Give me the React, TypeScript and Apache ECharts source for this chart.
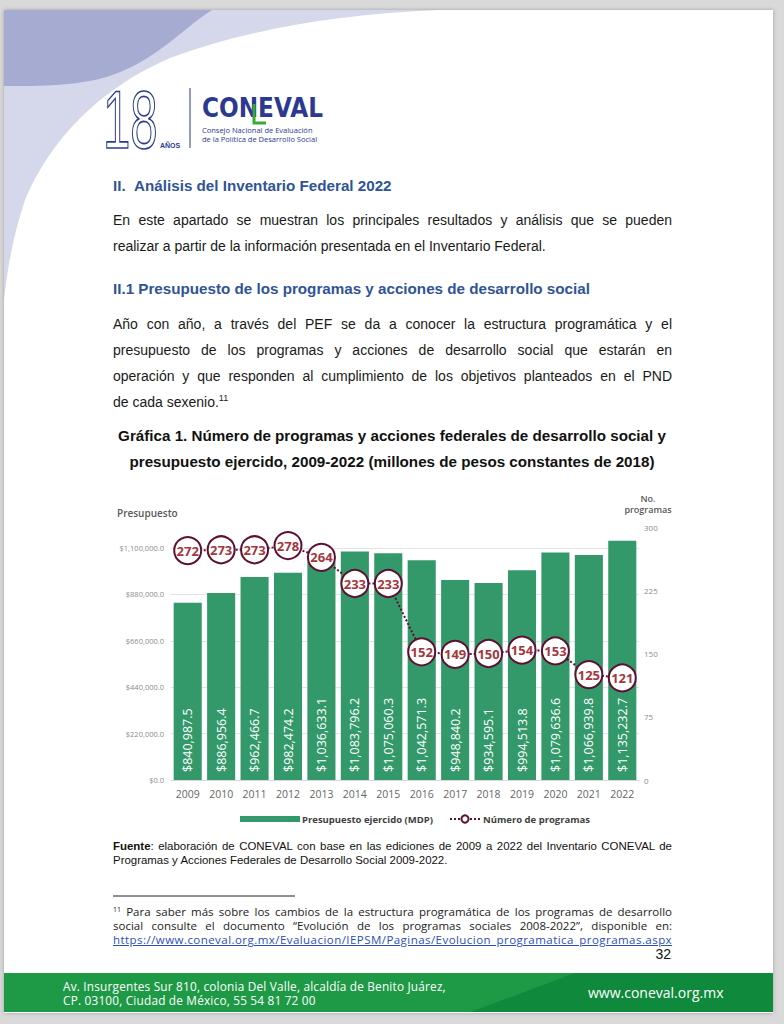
import React, { useEffect, useRef } from "react";
import * as echarts from "echarts";

const years = ["2009", "2010", "2011", "2012", "2013", "2014", "2015", "2016", "2017", "2018", "2019", "2020", "2021", "2022"];
const budget = [840987.5, 886956.4, 962466.7, 982474.2, 1036633.1, 1083796.2, 1075060.3, 1042571.3, 948840.2, 934595.1, 994513.8, 1079636.6, 1066939.8, 1135232.7];
const programs = [272, 273, 273, 278, 264, 233, 233, 152, 149, 150, 154, 153, 125, 121];
const budgetAxis = { min: 0, max: 1200000, step: 220000 };
const programsAxis = { min: 0, max: 300, step: 75 };
const seriesNames = ["Presupuesto ejercido (MDP)", "Número de programas"];

const fmtMoney = (v: number) =>
  "$" + v.toLocaleString("en-US", { minimumFractionDigits: 1, maximumFractionDigits: 1 });

const GREEN = "#33996a";
const MAROON = "#5e1030";
const CHART_FONT = "'Open Sans', sans-serif";

function Chart() {
  const ref = useRef<HTMLDivElement>(null);
  useEffect(() => {
    const chart = echarts.init(ref.current as HTMLDivElement, null, { renderer: "svg" });
    chart.setOption({
      animation: false,
      textStyle: { fontFamily: CHART_FONT },
      grid: { left: 171, right: 145, top: 37, bottom: 50 },
      graphic: [
        {
          type: "text",
          left: 117,
          top: 18,
          style: { text: "Presupuesto", fill: "#595959", font: `600 10px ${CHART_FONT}` },
        },
        {
          type: "text",
          x: 648,
          y: 3,
          style: {
            text: "No.\nprogramas",
            fill: "#595959",
            font: `600 9px ${CHART_FONT}`,
            align: "center",
            verticalAlign: "top",
            lineHeight: 11,
          },
        },
      ],
      legend: [
        {
          data: [seriesNames[0]],
          left: 235,
          top: 319,
          itemWidth: 60,
          itemHeight: 6,
          itemGap: 5,
          icon: "rect",
          textStyle: { color: "#404040", fontSize: 9.5, fontWeight: 700, fontFamily: CHART_FONT, padding: [0, 0, 0, -3] },
        },
        {
          data: [seriesNames[1]],
          left: 444,
          top: 319,
          itemWidth: 30,
          itemHeight: 9,
          textStyle: { color: "#404040", fontSize: 9.5, fontWeight: 700, fontFamily: CHART_FONT, padding: [0, 0, 0, -2] },
        },
      ],
      xAxis: {
        type: "category",
        data: years,
        axisTick: { show: false },
        axisLine: { show: true, lineStyle: { color: "#d9d9d9" } },
        axisLabel: { color: "#666666", fontSize: 10.5, margin: 8 },
      },
      yAxis: [
        {
          type: "value",
          min: budgetAxis.min,
          max: budgetAxis.max,
          interval: budgetAxis.step,
          axisLine: { show: false },
          axisTick: { show: false },
          axisLabel: {
            color: "#8c8c8c",
            fontSize: 7.5,
            margin: 7,
            showMaxLabel: false,
            formatter: (v: number) => (v > 1100000 ? "" : fmtMoney(v)),
          },
          splitLine: { show: true, showMaxLine: false, lineStyle: { color: "#e3e3e3" } },
        },
        {
          type: "value",
          min: programsAxis.min,
          max: programsAxis.max,
          interval: programsAxis.step,
          axisLine: { show: false },
          axisTick: { show: false },
          axisLabel: { color: "#8c8c8c", fontSize: 8, margin: 5 },
          splitLine: { show: false },
        },
      ],
      series: [
        {
          name: seriesNames[0],
          type: "bar",
          data: budget,
          yAxisIndex: 0,
          barCategoryGap: "16%",
          itemStyle: { color: GREEN },
          label: {
            show: true,
            position: "insideBottom",
            rotate: 90,
            align: "left",
            verticalAlign: "middle",
            distance: 8,
            color: "#ffffff",
            fontSize: 12.5,
            fontFamily: CHART_FONT,
            formatter: (p: any) => fmtMoney(p.value),
          },
        },
        {
          name: seriesNames[1],
          type: "line",
          data: programs,
          yAxisIndex: 1,
          z: 5,
          symbol: "circle",
          symbolSize: 27,
          lineStyle: { color: MAROON, width: 2, type: "dotted" },
          itemStyle: { color: "#ffffff", borderColor: MAROON, borderWidth: 2 },
          label: {
            show: true,
            position: "inside",
            color: "#a3373d",
            fontSize: 13,
            fontWeight: "bold",
            fontFamily: CHART_FONT,
          },
        },
      ],
    });
    return () => chart.dispose();
  }, []);
  return <div ref={ref} style={{ position: "absolute", left: 0, top: 490, width: 784, height: 340 }} />;
}

const BODY_FONT = "'Liberation Sans', Arial, sans-serif";
const GOTHIC = "'Open Sans', sans-serif";

type LineProps = {
  center: number;
  left?: number;
  width?: number;
  lh?: number;
  justify?: boolean;
  align?: "left" | "center" | "right";
  style?: React.CSSProperties;
  children: React.ReactNode;
};

function L({ center, left = 113, width = 559, lh = 20, justify = false, align = "left", style, children }: LineProps) {
  return (
    <div
      style={{
        position: "absolute",
        left,
        width,
        top: center - lh / 2,
        height: lh,
        lineHeight: `${lh}px`,
        whiteSpace: justify ? "normal" : "nowrap",
        textAlign: justify ? "justify" : align,
        textAlignLast: justify ? "justify" : align,
        overflow: "visible",
        ...style,
      }}
    >
      {children}
    </div>
  );
}

export default function App() {
  const p = { fontFamily: BODY_FONT, fontSize: 14, color: "#1a1a1a" };
  const h = { fontFamily: BODY_FONT, fontSize: 15.2, fontWeight: 700, color: "#2f5496" };
  const cap = { fontFamily: BODY_FONT, fontSize: 15.2, fontWeight: 700, color: "#111" };
  const src = { fontFamily: BODY_FONT, fontSize: 11.45, color: "#111" };
  const fn = { fontFamily: GOTHIC, fontSize: 11.5, color: "#222" };
  return (
    <div style={{ position: "absolute", left: 0, top: 0, width: 784, height: 1024, overflow: "hidden", background: "#d9d9d9" }}>
      <div
        style={{
          position: "absolute",
          left: 4,
          top: 10,
          width: 769,
          height: 1003,
          background: "#ffffff",
          boxShadow: "0 0 4px rgba(0,0,0,0.25)",
        }}
      />
      <svg width={784} height={1024} style={{ position: "absolute", left: 0, top: 0 }}>
        <path d="M4,10 H440 C330,14 240,32 170,58 C100,88 50,140 25,200 C15,230 8,262 4,300 Z" fill="#d5d8eb" />
        <path d="M4,10 H212 C180,30 150,68 95,80 C60,87 30,86 4,86 Z" fill="#a6abd2" />
        {/* logo */}
        <g transform="translate(103,148) scale(0.6,1)">
          <text x={0} y={0} fontFamily={BODY_FONT} fontSize={82} fill="none" stroke="#2b3990" strokeWidth={1.6}>
            18
          </text>
        </g>
        <text x={160} y={148} fontFamily={BODY_FONT} fontSize={7} fontWeight={700} fill="#2b3990">
          AÑOS
        </text>
        <line x1={190} y1={88} x2={190} y2={148} stroke="#2b3990" strokeWidth={1} />
        <text
          x={202}
          y={117}
          fontFamily="'DejaVu Sans', sans-serif"
          fontSize={27}
          fontWeight={700}
          fill="#2b3990"
          textLength={121}
          lengthAdjust="spacingAndGlyphs"
        >
          CONEVAL
        </text>
        <polyline points="254,104 254,123 266,123" fill="none" stroke="#3aaa35" strokeWidth={3} />
        <text x={202} y={133} fontFamily={GOTHIC} fontSize={7.5} fill="#2b3990">
          Consejo Nacional de Evaluación
        </text>
        <text x={202} y={142} fontFamily={GOTHIC} fontSize={7.5} fill="#2b3990">
          de la Política de Desarrollo Social
        </text>
        {/* footer */}
        <rect x={4} y={973} width={769} height={39} fill="#1e9a46" />
        <polygon points="575,973 773,973 773,1012 470,1012" fill="#0f8a3c" />
        <line x1={113} y1={896} x2={295} y2={896} stroke="#222" strokeWidth={1} />
      </svg>

      <L center={186} style={h}>II.&nbsp;&nbsp;Análisis del Inventario Federal 2022</L>
      <L center={220} lh={26} justify style={p}>
        En este apartado se muestran los principales resultados y análisis que se pueden
      </L>
      <L center={246} lh={26} style={p}>
        realizar a partir de la información presentada en el Inventario Federal.
      </L>
      <L center={289} style={h}>II.1 Presupuesto de los programas y acciones de desarrollo social</L>
      <L center={324} lh={26} justify style={p}>
        Año con año, a través del PEF se da a conocer la estructura programática y el
      </L>
      <L center={350} lh={26} justify style={p}>
        presupuesto de los programas y acciones de desarrollo social que estarán en
      </L>
      <L center={376} lh={26} justify style={p}>
        operación y que responden al cumplimiento de los objetivos planteados en el PND
      </L>
      <L center={402} lh={26} style={p}>
        de cada sexenio.<sup style={{ fontSize: 9, verticalAlign: "6px", lineHeight: 0 }}>11</sup>
      </L>
      <L center={436} left={40} width={704} align="center" style={cap}>
        Gráfica 1. Número de programas y acciones federales de desarrollo social y
      </L>
      <L center={462} left={40} width={704} align="center" style={cap}>
        presupuesto ejercido, 2009-2022 (millones de pesos constantes de 2018)
      </L>

      <Chart />

      <L center={846} lh={14} justify style={src}>
        <b>Fuente</b>: elaboración de CONEVAL con base en las ediciones de 2009 a 2022 del Inventario CONEVAL de
      </L>
      <L center={860} lh={14} style={src}>
        Programas y Acciones Federales de Desarrollo Social 2009-2022.
      </L>
      <L center={912} lh={14} justify style={fn}>
        <sup style={{ fontSize: 7, verticalAlign: "4px", lineHeight: 0 }}>11</sup> Para saber más sobre los cambios de la estructura programática de los programas de desarrollo
      </L>
      <L center={926} lh={14} justify style={fn}>
        social consulte el documento “Evolución de los programas sociales 2008-2022”, disponible en:
      </L>
      <L center={940} lh={14} style={{ ...fn, color: "#2a4fb8", textDecoration: "underline", letterSpacing: 0.45 }}>
        https://www.coneval.org.mx/Evaluacion/IEPSM/Paginas/Evolucion_programatica_programas.aspx
      </L>
      <L center={954} left={600} width={71} align="right" lh={18} style={{ fontFamily: BODY_FONT, fontSize: 14, color: "#111" }}>
        32
      </L>
      <div
        style={{
          position: "absolute",
          left: 63,
          top: 979,
          width: 420,
          lineHeight: "14px",
          whiteSpace: "nowrap",
          fontFamily: GOTHIC,
          fontSize: 11.8,
          letterSpacing: 0.2,
          color: "#fff",
        }}
      >
        Av. Insurgentes Sur 810, colonia Del Valle, alcaldía de Benito Juárez,
        <br />
        CP. 03100, Ciudad de México, 55 54 81 72 00
      </div>
      <L center={993} left={588} width={150} lh={18} style={{ fontFamily: GOTHIC, fontSize: 14, color: "#fff" }}>
        www.coneval.org.mx
      </L>
    </div>
  );
}
